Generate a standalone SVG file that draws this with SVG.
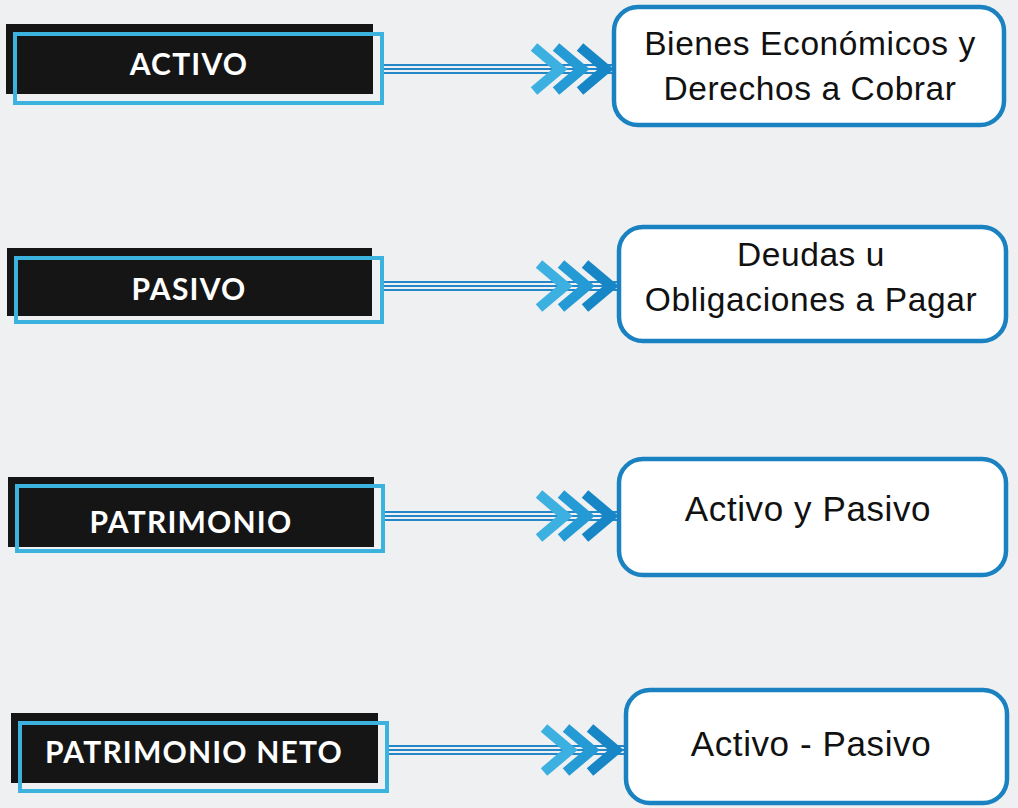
<svg xmlns="http://www.w3.org/2000/svg" width="1018" height="808" viewBox="0 0 1018 808">
<style>
.blk{fill:#151515}
.cy{fill:none;stroke:#3cb2de;stroke-width:4}
.lbl{font-family:Lato,"Open Sans",sans-serif;font-weight:700;font-size:30px;fill:#ffffff;text-anchor:middle;letter-spacing:1.2px}
.box{fill:#ffffff;stroke:#1b82c2;stroke-width:4.5}
.txt{font-family:"Liberation Sans",Arial,sans-serif;font-size:33.5px;fill:#111111;text-anchor:middle;letter-spacing:0.6px}
.txt1{font-size:35px}
.ln{stroke:#2387c8;stroke-width:2.2;fill:none}
.c1{fill:none;stroke:#3cb0e0;stroke-width:10;stroke-linejoin:miter}
.c2{fill:none;stroke:#259bd6;stroke-width:10;stroke-linejoin:miter}
.c3{fill:none;stroke:#1686c7;stroke-width:10;stroke-linejoin:miter}
</style>
<defs>
<g id="arrowhead">
<polyline class="c1" points="-80,-22 -54,0 -80,22"/>
<polyline class="c2" points="-58,-22 -32,0 -58,22"/>
<polyline class="c3" points="-34,-22 -8,0 -34,22"/>
</g>
</defs>
<rect x="0" y="0" width="1018" height="808" fill="#eef0f1"/>

<g id="connectors">
<g transform="translate(0,69)">
<line class="ln" x1="384" y1="-4" x2="614" y2="-4"/><line class="ln" x1="384" y1="0" x2="614" y2="0"/><line class="ln" x1="384" y1="4" x2="614" y2="4"/>
<use href="#arrowhead" x="614"/>
</g>
<g transform="translate(0,286)">
<line class="ln" x1="384" y1="-4" x2="619" y2="-4"/><line class="ln" x1="384" y1="0" x2="619" y2="0"/><line class="ln" x1="384" y1="4" x2="619" y2="4"/>
<use href="#arrowhead" x="619"/>
</g>
<g transform="translate(0,516)">
<line class="ln" x1="385" y1="-4" x2="619" y2="-4"/><line class="ln" x1="385" y1="0" x2="619" y2="0"/><line class="ln" x1="385" y1="4" x2="619" y2="4"/>
<use href="#arrowhead" x="619"/>
</g>
<g transform="translate(0,750)">
<line class="ln" x1="389" y1="-4" x2="626" y2="-4"/><line class="ln" x1="389" y1="0" x2="626" y2="0"/><line class="ln" x1="389" y1="4" x2="626" y2="4"/>
<use href="#arrowhead" x="624"/>
</g>
</g>

<g id="activo">
<rect class="blk" x="6" y="24" width="367" height="70"/>
<rect class="cy" x="15" y="34" width="367" height="69"/>
<text class="lbl" x="189" y="75">ACTIVO</text>
</g>
<g id="pasivo">
<rect class="blk" x="7" y="248" width="365" height="68"/>
<rect class="cy" x="16" y="258" width="366" height="64"/>
<text class="lbl" x="189" y="300">PASIVO</text>
</g>
<g id="patrimonio">
<rect class="blk" x="8" y="477" width="366" height="70"/>
<rect class="cy" x="17" y="486" width="366" height="65"/>
<text class="lbl" x="191" y="533">PATRIMONIO</text>
</g>
<g id="patrimonio-neto">
<rect class="blk" x="11" y="713" width="367" height="70"/>
<rect class="cy" x="20" y="723" width="367" height="68"/>
<text class="lbl" x="194" y="763">PATRIMONIO NETO</text>
</g>

<g id="bienes">
<rect class="box" x="614" y="7" width="390" height="118" rx="24"/>
<text class="txt" x="810" y="55">Bienes Económicos y</text>
<text class="txt" x="810" y="100">Derechos a Cobrar</text>
</g>
<g id="deudas">
<rect class="box" x="619" y="227" width="387" height="114" rx="24"/>
<text class="txt" x="811" y="266">Deudas u</text>
<text class="txt" x="811" y="311">Obligaciones a Pagar</text>
</g>
<g id="activo-y-pasivo">
<rect class="box" x="619" y="459" width="387" height="116" rx="24"/>
<text class="txt txt1" x="808" y="521">Activo y Pasivo</text>
</g>
<g id="activo-menos-pasivo">
<rect class="box" x="626" y="690" width="381" height="113" rx="24"/>
<text class="txt txt1" x="811" y="756">Activo - Pasivo</text>
</g>
</svg>
